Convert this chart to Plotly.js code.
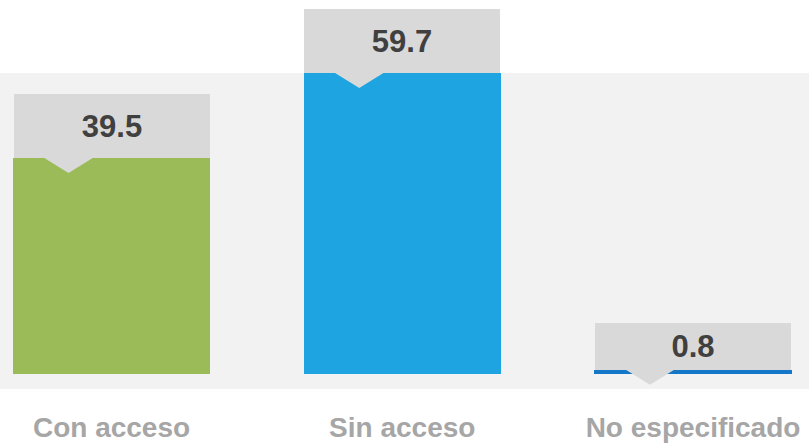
<!DOCTYPE html>
<html>
<head>
<meta charset="utf-8">
<script src="https://cdn.plot.ly/plotly-3.0.1.min.js"></script>
<style>html,body{margin:0;padding:0;background:#fff;}#chart{width:809px;height:446px;}</style>
</head>
<body>
<div id="chart"></div>
<script>
// Data
var categories = ["Con acceso", "Sin acceso", "No especificado"];
var values = [39.5, 59.7, 0.8];
var valueLabels = ["39.5", "59.7", "0.8"];

// Styles
var barColors = ["#9BBB59", "#1EA4E0", "#1577C7"];
var labelBoxHeights = [64, 64, 47];
var boxColor = "#D9D9D9";
var yRange = [-2.74, 55.05];
var FONT = "Liberation Sans, Arial, Helvetica, sans-serif";

var trace = {
  type: "bar",
  x: categories,
  y: values,
  width: 0.678,
  marker: {color: barColors, line: {width: 0}},
  cliponaxis: false,
  hoverinfo: "none"
};

var annotations = [];
var shapes = [];
for (var i = 0; i < categories.length; i++) {
  var ly = Math.min(values[i], yRange[1]);
  annotations.push({
    x: categories[i], y: ly, xref: "x", yref: "y",
    xanchor: "center", yanchor: "bottom",
    text: "<b>" + valueLabels[i] + "</b>",
    showarrow: false,
    bgcolor: boxColor,
    width: 196, height: labelBoxHeights[i],
    borderpad: 0, borderwidth: 0,
    valign: "middle",
    font: {family: FONT, size: 31, color: "#404040"}
  });
  shapes.push({
    type: "path", xref: "x", yref: "y",
    xsizemode: "pixel", ysizemode: "pixel",
    xanchor: categories[i], yanchor: ly,
    path: "M -68,0.5 L -18,0.5 L -43,-15 Z",
    fillcolor: boxColor, line: {width: 0}, layer: "above"
  });
}

var layout = {
  width: 809, height: 446,
  margin: {l: 0, r: 0, t: 73, b: 57, pad: 0},
  paper_bgcolor: "#FFFFFF",
  plot_bgcolor: "#F2F2F2",
  showlegend: false,
  bargap: 0,
  xaxis: {
    type: "category",
    range: [-0.3835, 2.399],
    showgrid: false, zeroline: false, showline: false,
    ticks: "",
    tickfont: {family: FONT, size: 28, color: "#A6A6A6", weight: "bold"},
    ticklabelstandoff: 19,
    fixedrange: true
  },
  yaxis: {
    range: yRange,
    visible: false,
    showgrid: false, zeroline: false,
    fixedrange: true
  },
  annotations: annotations,
  shapes: shapes
};

Plotly.newPlot("chart", [trace], layout, {displayModeBar: false, staticPlot: true});
</script>
</body>
</html>
